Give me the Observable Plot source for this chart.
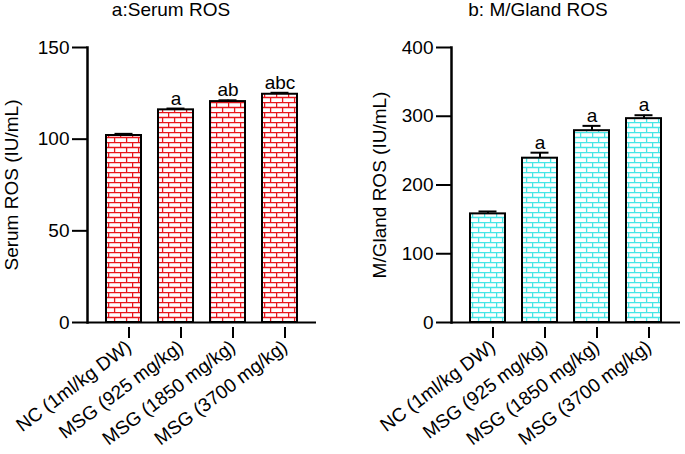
<!DOCTYPE html>
<html>
<head>
<meta charset="utf-8">
<script src="https://cdn.jsdelivr.net/npm/d3@7"></script>
<script src="https://cdn.jsdelivr.net/npm/@observablehq/plot@0.6"></script>
<style>
  body { margin: 0; background: #fff; font-family: "Liberation Sans", Arial, sans-serif; }
  #wrap { position: relative; width: 685px; height: 454px; overflow: hidden; }
  .title { position: absolute; top: 0px; height: 22px; line-height: 20px; text-align: center; font-size: 19px; color: #000; white-space: nowrap; }
  .panel { position: absolute; top: 22px; }
</style>
</head>
<body>
<svg width="0" height="0" style="position:absolute">
  <defs>
    <pattern id="brickRed" patternUnits="userSpaceOnUse" width="12" height="10">
      <rect width="12" height="10" fill="#fff"/>
      <path d="M0 0.5H12M0 5.5H12M0.6 0V5M6.6 5V10" stroke="#e8161c" stroke-width="1.3" fill="none"/>
    </pattern>
    <pattern id="brickCyan" patternUnits="userSpaceOnUse" width="12" height="10">
      <rect width="12" height="10" fill="#fff"/>
      <path d="M0 0.5H12M0 5.5H12M0.6 0V5M6.6 5V10" stroke="#45e6e6" stroke-width="1.3" fill="none"/>
    </pattern>
  </defs>
</svg>
<div id="wrap">
  <div class="title" style="left:0px;width:342px;">a:Serum ROS</div>
  <div class="title" style="left:388px;width:300px;">b: M/Gland ROS</div>
  <div class="panel" id="left" style="left:0px;"></div>
  <div class="panel" id="right" style="left:340px;"></div>
</div>
<script>
const groups = ["NC (1ml/kg DW)", "MSG (925 mg/kg)", "MSG (1850 mg/kg)", "MSG (3700 mg/kg)"];
const serumMean = [102, 116, 120.5, 124.5];
const serumErr = [0.9, 0.7, 0.7, 0.8];
const serumSig = ["", "a", "ab", "abc"];
const glandMean = [158, 239, 279, 296.5];
const glandErr = [3.5, 8, 7, 5];
const glandSig = ["", "a", "a", "a"];
const serumTicks = [0, 50, 100, 150];
const glandTicks = [0, 100, 200, 300, 400];

function makeChart(mean, err, sig, ticks, yMax, fill, label, width, marginLeft, marginRight, labelOffset) {
  const data = groups.map((g, i) => ({group: g, mean: mean[i], err: err[i], sig: sig[i]}));
  return Plot.plot({
    width, height: 432,
    marginTop: 25, marginBottom: 132, marginLeft, marginRight,
    style: {fontFamily: '"Liberation Sans", Arial, sans-serif', color: "#000", background: "transparent", overflow: "visible"},
    x: {domain: groups, paddingInner: 0.333, paddingOuter: 0.35},
    y: {domain: [0, yMax]},
    marks: [
      Plot.barY(data, {x: "group", y: "mean", fill, stroke: "#000", strokeWidth: 2}),
      Plot.ruleX(data, {x: "group", y1: "mean", y2: d => d.mean + d.err, stroke: "#000", strokeWidth: 2}),
      Plot.tickY(data, {x: "group", y: d => d.mean + d.err, stroke: "#000", strokeWidth: 2, insetLeft: 8.5, insetRight: 8.5}),
      Plot.text(data, {x: "group", y: d => d.mean + d.err, text: "sig", dy: -10, fontSize: 19, fill: "#000"}),
      Plot.frame({anchor: "left", stroke: "#000", strokeWidth: 2.5}),
      Plot.ruleY([0], {stroke: "#000", strokeWidth: 2}),
      Plot.axisY({ticks, tickSize: 15, tickPadding: 3, fontSize: 19, strokeWidth: 2, label, labelAnchor: "center", labelArrow: "none", labelOffset}),
      Plot.axisX({tickRotate: -37, tickSize: 11, tickPadding: 6, dx: 5, dy: 5, fontSize: 19, strokeWidth: 2, label: null})
    ]
  });
}

document.getElementById("left").appendChild(
  makeChart(serumMean, serumErr, serumSig, serumTicks, 150, "url(#brickRed)", "Serum ROS (IU/mL)", 342, 87, 26, 83));
document.getElementById("right").appendChild(
  makeChart(glandMean, glandErr, glandSig, glandTicks, 400, "url(#brickCyan)", "M/Gland ROS (IU/mL)", 345, 111, 5, 79));
</script>
</body>
</html>
